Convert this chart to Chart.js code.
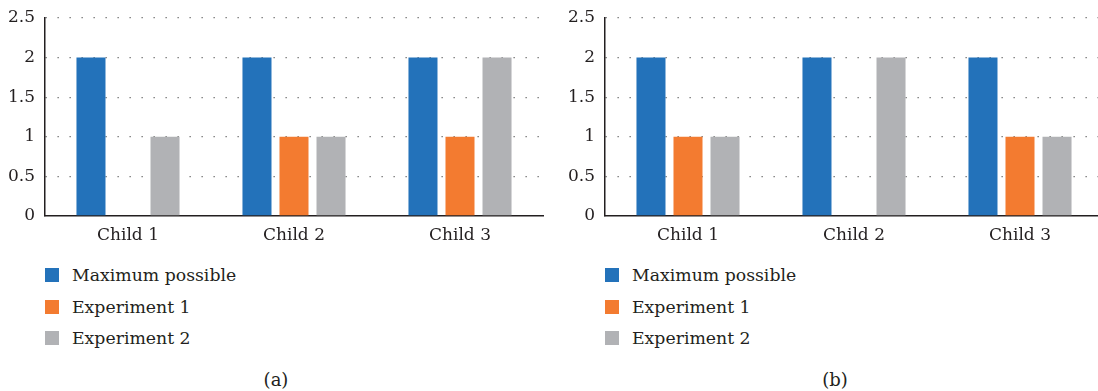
<!DOCTYPE html>
<html>
<head>
<meta charset="utf-8">
<script src="https://cdn.jsdelivr.net/npm/chart.js@4/dist/chart.umd.min.js"></script>
<style>
  html, body { margin: 0; padding: 0; background: #fff; overflow: hidden; width: 1098px; height: 391px; }
  .panel { position: absolute; top: 0; width: 548px; height: 391px; }
  .panel canvas { position: absolute; left: 0; top: 0; }
  .legend { position: absolute; left: 45px; top: 265px; font-family: "DejaVu Serif", serif; font-size: 17.3px; color: #231f20; }
  .legend .row { position: relative; height: 31.5px; line-height: 20px; white-space: nowrap; }
  .legend .sw { position: absolute; left: 0; top: 3px; width: 14px; height: 14px; }
  .legend .tx { position: absolute; left: 27px; top: 0; }
  .caption { position: absolute; top: 369px; width: 60px; text-align: center; font-family: "DejaVu Serif", serif; font-size: 18px; color: #231f20; }
</style>
</head>
<body>
<div class="panel" id="panelA" style="left:0px;">
  <canvas id="chartA" width="548" height="250"></canvas>
  <div class="legend" id="legendA"></div>
  <div class="caption" style="left:246px;">(a)</div>
</div>
<div class="panel" id="panelB" style="left:560px;">
  <canvas id="chartB" width="548" height="250"></canvas>
  <div class="legend" id="legendB"></div>
  <div class="caption" style="left:245px;">(b)</div>
</div>
<script>
// Categories and series
const categories = ["Child 1", "Child 2", "Child 3"];
const seriesNames = ["Maximum possible", "Experiment 1", "Experiment 2"];
const seriesColors = ["#2372ba", "#f37b30", "#b1b2b5"];

// Panel (a)
const maxPossibleA = [2, 2, 2];
const experiment1A = [0, 1, 1];
const experiment2A = [1, 1, 2];

// Panel (b)
const maxPossibleB = [2, 2, 2];
const experiment1B = [1, 0, 1];
const experiment2B = [1, 2, 1];

// Value axis ticks
const yTicks = [0, 0.5, 1, 1.5, 2, 2.5];

const textColor = "#231f20";
const fontFamily = "'DejaVu Serif', serif";

function buildChart(canvasId, seriesValues) {
  const datasets = seriesValues.map((vals, i) => ({
    label: seriesNames[i],
    data: vals,
    backgroundColor: seriesColors[i],
    borderWidth: 0,
    categoryPercentage: 0.669,
    barPercentage: 0.784
  }));
  return new Chart(document.getElementById(canvasId), {
    type: "bar",
    data: { labels: categories, datasets },
    options: {
      responsive: false,
      animation: false,
      layout: { padding: { top: 18, right: 5, left: 0, bottom: 0 } },
      plugins: { legend: { display: false }, tooltip: { enabled: false } },
      scales: {
        x: {
          grid: { display: false, drawTicks: false },
          border: { display: true, color: "#231f20", width: 1.5 },
          ticks: { color: textColor, font: { family: fontFamily, size: 17 }, padding: 9 },
          afterFit(scale) { scale.height = 34; }
        },
        y: {
          min: 0,
          max: 2.5,
          afterBuildTicks(scale) { scale.ticks = yTicks.map(v => ({ value: v })); },
          grid: {
            color: (ctx) => ctx.tick && ctx.tick.value === 0 ? "rgba(0,0,0,0)" : "#6d6d6d",
            lineWidth: 1.3,
            drawTicks: false
          },
          border: { display: true, color: "#231f20", width: 1.5, dash: [1.3, 10.7] },
          ticks: { color: textColor, font: { family: fontFamily, size: 17 }, padding: 10,
                   callback: (v) => String(v) },
          afterFit(scale) {
            scale.width = 45;
            scale.paddingTop = 0;
            scale.paddingBottom = 0;
          }
        }
      }
    }
  });
}

function buildLegend(id) {
  const el = document.getElementById(id);
  seriesNames.forEach((name, i) => {
    const row = document.createElement("div");
    row.className = "row";
    const sw = document.createElement("span");
    sw.className = "sw";
    sw.style.background = seriesColors[i];
    const tx = document.createElement("span");
    tx.className = "tx";
    tx.textContent = name;
    row.appendChild(sw);
    row.appendChild(tx);
    el.appendChild(row);
  });
}

const chartA = buildChart("chartA", [maxPossibleA, experiment1A, experiment2A]);
const chartB = buildChart("chartB", [maxPossibleB, experiment1B, experiment2B]);
buildLegend("legendA");
buildLegend("legendB");
</script>
</body>
</html>
